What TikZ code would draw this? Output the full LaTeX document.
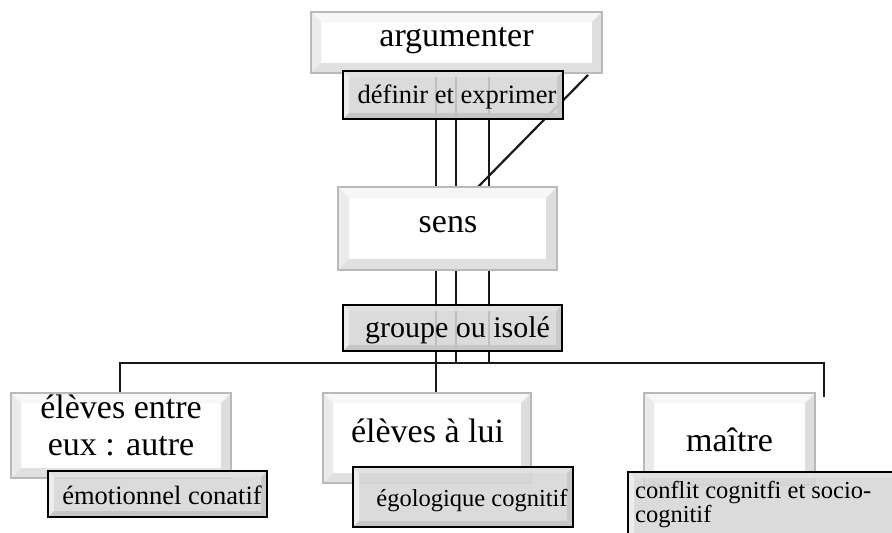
\documentclass[tikz,border=0pt]{standalone}
\usepackage{fontspec}
\setmainfont{Liberation Serif}
\usetikzlibrary{calc}
\tikzset{
  conn/.style={draw=black!90, line width=2.2pt},
  boxnode/.style={rectangle, inner sep=0pt, outer sep=0pt, draw=none},
  wface/.style={boxnode, fill=white},
  gface/.style={boxnode, fill=gray!32, fill opacity=0.88},
  wtop/.style={fill=gray!6},
  wleft/.style={fill=gray!16},
  wbot/.style={fill=gray!24},
  wright/.style={fill=gray!26},
  wborder/.style={draw=gray!55, line width=1.2pt},
  gtop/.style={fill=gray!22, fill opacity=0.88},
  gleft/.style={fill=gray!12, fill opacity=0.88},
  gbot/.style={fill=gray!46, fill opacity=0.88},
  gright/.style={fill=gray!44, fill opacity=0.88},
  gborder/.style={draw=black, line width=2.4pt},
  bigtxt/.style={inner sep=0pt, font=\fontsize{34}{37}\selectfont, text=black},
  midtxt/.style={inner sep=0pt, font=\fontsize{26.5}{30}\selectfont, text=black},
  smalltxt/.style={inner sep=0pt, font=\fontsize{24.5}{21.5}\selectfont, text=black},
}
% #1 node name, #2 bevel inset, #3 style prefix (w or g)
\newcommand\bevelframe[3]{%
  \fill[#3top] (#1.north west) -- (#1.north east) -- ([xshift=-#2pt,yshift=-#2pt]#1.north east) -- ([xshift=#2pt,yshift=-#2pt]#1.north west) -- cycle;
  \fill[#3left] (#1.north west) -- ([xshift=#2pt,yshift=-#2pt]#1.north west) -- ([xshift=#2pt,yshift=#2pt]#1.south west) -- (#1.south west) -- cycle;
  \fill[#3bot] (#1.south west) -- ([xshift=#2pt,yshift=#2pt]#1.south west) -- ([xshift=-#2pt,yshift=#2pt]#1.south east) -- (#1.south east) -- cycle;
  \fill[#3right] (#1.south east) -- ([xshift=-#2pt,yshift=#2pt]#1.south east) -- ([xshift=-#2pt,yshift=-#2pt]#1.north east) -- (#1.north east) -- cycle;
  \draw[#3border] (#1.north west) rectangle (#1.south east);
}
\begin{document}
\begin{tikzpicture}[x=1pt, y=-1pt]
\useasboundingbox (0,0) rectangle (892,533);

% helper coordinates for connector positions
\coordinate (xa) at (436,0);
\coordinate (xb) at (456,0);
\coordinate (xc) at (489,0);
\coordinate (hy) at (0,363);
\coordinate (xl) at (120,0);
\coordinate (xr) at (824,0);
\coordinate (rend) at (824,397);
\coordinate (dtop) at (588,75);
\coordinate (dbot) at (478,0);

% box nodes (placed first so connectors can reference them)
\node[wface, minimum width=291pt, minimum height=61pt] (arg) at (456.5,42.5) {};
\node[boxnode, minimum width=219pt, minimum height=83pt] (sens) at (447.5,228.5) {};
\node[boxnode, minimum width=220pt, minimum height=85pt] (ee) at (121,435.5) {};
\node[boxnode, minimum width=208pt, minimum height=90pt] (eal) at (427,438) {};

% connectors
\draw[conn] (arg.south -| xa) -- (eal.north -| xa);
\draw[conn] (arg.south -| xb) -- (xb |- hy) -- (xc |- hy) -- (arg.south -| xc);
\draw[conn] (ee.north -| xl) -- (xl |- hy) -- (xr |- hy) -- (rend);
\draw[conn] (dtop) -- (sens.north -| dbot);

% argumenter
\bevelframe{arg}{10}{w}
\node[bigtxt, anchor=base] (argt) at (456.5,46) {argumenter};

% définir et exprimer
\node[gface, minimum width=220pt, minimum height=48pt] (def) at (453,95) {};
\bevelframe{def}{6}{g}
\node[midtxt, anchor=base] (deft) at (457,103) {définir et exprimer};

% sens
\node[wface, minimum width=219pt, minimum height=83pt] (sensf) at (447.5,228.5) {};
\bevelframe{sensf}{11}{w}
\node[bigtxt, anchor=base] (senst) at (448,232) {sens};

% groupe ou isolé
\node[gface, minimum width=219pt, minimum height=46pt] (grp) at (452.5,328) {};
\bevelframe{grp}{6}{g}
\node[inner sep=0pt, font=\fontsize{30}{34}\selectfont, anchor=base] (grpt) at (457.5,337) {groupe ou isolé};

% élèves entre eux : autre
\node[wface, minimum width=220pt, minimum height=85pt] (eef) at (121,435.5) {};
\bevelframe{eef}{10}{w}
\node[bigtxt, align=center, anchor=north] (eet) at (121,394.8) {élèves entre\\eux : autre};

% émotionnel conatif
\node[gface, minimum width=219pt, minimum height=46pt] (emo) at (157.5,494) {};
\bevelframe{emo}{6}{g}
\node[midtxt, anchor=base] (emot) at (162,504) {émotionnel conatif};

% élèves à lui
\node[wface, minimum width=208pt, minimum height=90pt] (ealf) at (427,438) {};
\bevelframe{ealf}{10}{w}
\node[bigtxt, anchor=base] (ealt) at (427.5,442) {élèves à lui};

% égologique cognitif
\node[gface, minimum width=220pt, minimum height=60pt] (ego) at (463,497) {};
\bevelframe{ego}{6}{g}
\node[smalltxt, anchor=base] (egot) at (472,506) {égologique cognitif};

% maître
\node[wface, minimum width=171pt, minimum height=92pt] (mai) at (729.5,439) {};
\bevelframe{mai}{10}{w}
\node[bigtxt, anchor=base] (mait) at (729.5,451) {maître};

% conflit cognitfi et socio-cognitif
\node[gface, minimum width=274pt, minimum height=73pt] (con) at (765,508.5) {};
\bevelframe{con}{6}{g}
\node[smalltxt, align=left, anchor=north west] (cont) at (635,481.4) {conflit cognitfi et socio-\\cognitif};
\end{tikzpicture}
\end{document}
